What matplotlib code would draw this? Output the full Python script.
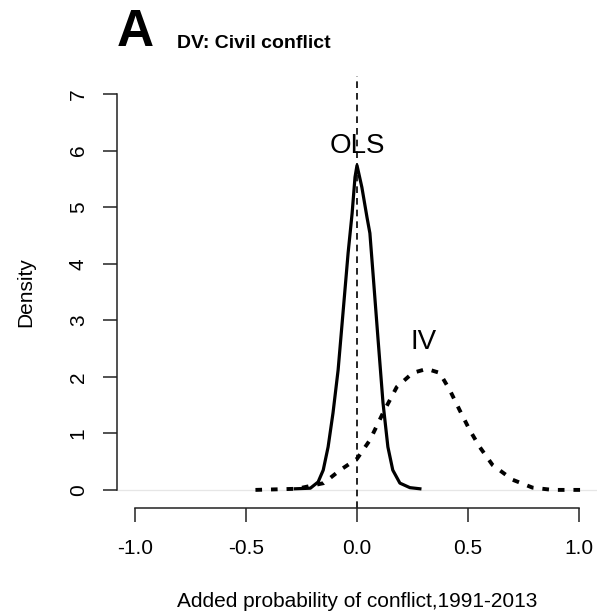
import numpy as np
import matplotlib
matplotlib.use("Agg")
import matplotlib.pyplot as plt

plt.rcParams['font.family'] = ['Liberation Sans', 'DejaVu Sans']

# OLS density (solid)
ols_x = [-0.278, -0.21, -0.175, -0.152, -0.13, -0.108, -0.085, -0.063, -0.04, -0.022,
         -0.009, 0.0, 0.022, 0.045, 0.058, 0.072, 0.094, 0.117, 0.139, 0.161,
         0.193, 0.238, 0.283]
ols_y = [0.02, 0.03, 0.14, 0.35, 0.76, 1.36, 2.12, 3.13, 4.19, 4.89,
         5.53, 5.74, 5.35, 4.82, 4.54, 3.83, 2.70, 1.54, 0.76, 0.35,
         0.12, 0.04, 0.02]

# IV density (dotted)
iv_x = [-0.457, -0.27, -0.15, -0.076, 0.0, 0.058, 0.117, 0.179, 0.251, 0.314,
        0.372, 0.417, 0.462, 0.507, 0.552, 0.61, 0.70, 0.79, 0.88, 1.01]
iv_y = [0.0, 0.02, 0.12, 0.35, 0.55, 0.88, 1.36, 1.82, 2.07, 2.14,
        2.07, 1.77, 1.41, 1.06, 0.76, 0.44, 0.18, 0.04, 0.0, 0.0]

xticks = [-1.0, -0.5, 0.0, 0.5, 1.0]
yticks = [0, 1, 2, 3, 4, 5, 6, 7]

W, H = 597, 616
fig = plt.figure(figsize=(W / 100, H / 100), dpi=100)
# plot region in pixels: left 117, right 597, bottom 508, top 76
ax = fig.add_axes([117 / W, (H - 508) / H, (597 - 117) / W, (508 - 76) / H])

ax.axhline(0, color='#e6e6e6', lw=0.9, zorder=1)
ax.axvline(0, color='black', lw=1.2, linestyle=(0, (4, 3)), zorder=2)
ax.plot(ols_x, ols_y, color='black', lw=2.3, solid_joinstyle='round', zorder=3)
ax.plot(iv_x, iv_y, color='black', lw=2.8, linestyle=(0, (1.7, 2.3)), zorder=3)

ax.text(0.0, 5.95, 'OLS', fontsize=20, ha='center', va='baseline')
ax.text(0.3, 2.5, 'IV', fontsize=20, ha='center', va='baseline')

ax.set_xlim(-1.08, 1.08)
ax.set_ylim(-0.32, 7.32)
ax.set_xticks(xticks)
ax.set_xticklabels(['%.1f' % v for v in xticks])
ax.set_yticks(yticks)

for s in ['top', 'right']:
    ax.spines[s].set_visible(False)
ax.spines['left'].set_bounds(0, 7)
ax.spines['bottom'].set_bounds(-1, 1)
for s in ['left', 'bottom']:
    ax.spines[s].set_linewidth(1.1)
    ax.spines[s].set_color('#222222')

ax.tick_params(axis='both', length=10, width=1.1, color='#222222', labelsize=15)
ax.tick_params(axis='x', pad=12)
ax.tick_params(axis='y', pad=11)
for lab in ax.get_yticklabels():
    lab.set_rotation(90)
    lab.set_va('center')

ax.set_xlabel('Added probability of conflict,1991-2013', fontsize=15, labelpad=25)
ax.set_ylabel('Density', fontsize=15, labelpad=24)

fig.text(117 / W, 1 - 46 / H, 'A', fontsize=37, fontweight='bold', va='baseline')
fig.text(177 / W, 1 - 48 / H, 'DV: Civil conflict', fontsize=14, fontweight='bold', va='baseline')

fig.savefig('out.png', dpi=100)
